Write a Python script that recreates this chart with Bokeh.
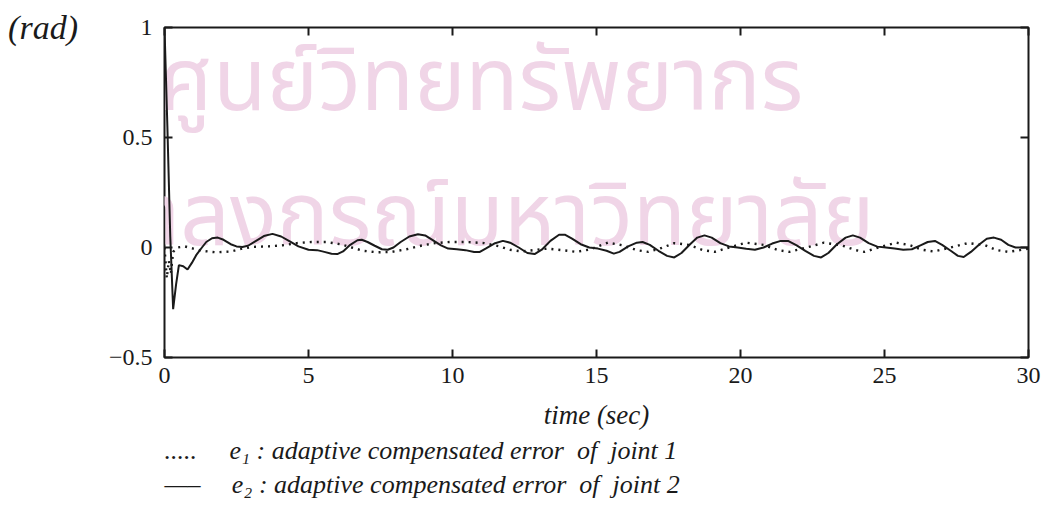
from bokeh.plotting import figure
from bokeh.models import Label, LinearAxis, FixedTicker, Range1d, Title
from bokeh.embed import file_html
from bokeh.resources import INLINE

# ---- data ----
t_e1 = [0.00, 0.08, 0.15, 0.22, 0.30, 0.45, 0.70, 1.00, 1.30, 1.80, 2.30, 2.70, 3.10, 3.60,
        4.10, 4.60, 5.10, 5.60, 6.10, 6.50, 6.90, 7.40, 7.90, 8.40, 8.90, 9.40, 9.90, 10.50,
        11.10, 11.60, 12.00, 12.40, 12.80, 13.30, 13.80, 14.30, 14.80, 15.40, 15.90, 16.40,
        16.80, 17.20, 17.70, 18.20, 18.70, 19.10, 19.60, 20.20, 20.80, 21.30, 21.70, 22.30,
        22.90, 23.50, 24.00, 24.30, 24.80, 25.40, 25.90, 26.30, 26.70, 27.30, 27.90, 28.50,
        28.90, 29.30, 29.70, 30.00]
e1 = [0.0, -0.14, -0.06, -0.12, -0.02, 0.0, 0.005, -0.005, -0.015, -0.022, -0.018, -0.005,
      0.003, 0.005, 0.01, 0.02, 0.025, 0.025, 0.015, 0.0, -0.015, -0.022, -0.02, -0.008,
      0.008, 0.02, 0.025, 0.025, 0.02, 0.006, -0.01, -0.018, -0.012, -0.005, -0.012, -0.02,
      -0.008, 0.022, 0.01, -0.012, -0.02, -0.005, 0.02, 0.012, -0.012, -0.02, 0.0, 0.022,
      0.012, -0.012, -0.02, 0.0, 0.022, 0.01, -0.012, -0.02, 0.0, 0.022, 0.01, -0.01,
      -0.018, 0.0, 0.02, 0.01, -0.012, -0.02, -0.012, -0.005]

t_e2 = [0.00, 0.10, 0.20, 0.30, 0.40, 0.50, 0.65, 0.80, 0.95, 1.10, 1.30, 1.45, 1.65, 1.85,
        2.05, 2.30, 2.50, 2.70, 2.90, 3.15, 3.45, 3.75, 4.05, 4.35, 4.65, 5.00, 5.30, 5.55,
        5.80, 6.00, 6.20, 6.45, 6.70, 6.85, 7.05, 7.30, 7.55, 7.75, 7.95, 8.20, 8.50, 8.80,
        9.05, 9.30, 9.60, 9.85, 10.15, 10.45, 10.75, 10.95, 11.15, 11.45, 11.75, 12.00, 12.30,
        12.60, 12.85, 13.10, 13.40, 13.70, 13.90, 14.15, 14.45, 14.75, 15.05, 15.35, 15.60,
        15.80, 16.10, 16.40, 16.60, 16.85, 17.15, 17.45, 17.70, 17.95, 18.25, 18.50, 18.75,
        19.00, 19.30, 19.60, 19.90, 20.20, 20.50, 20.80, 21.10, 21.40, 21.65, 21.95, 22.25,
        22.55, 22.80, 23.05, 23.35, 23.65, 23.90, 24.15, 24.45, 24.75, 25.05, 25.35, 25.65,
        25.95, 26.25, 26.50, 26.75, 27.00, 27.30, 27.55, 27.75, 28.00, 28.30, 28.55, 28.80,
        29.05, 29.30, 29.55, 29.80, 30.00]
e2 = [1.00, 0.55, 0.05, -0.28, -0.17, -0.08, -0.085, -0.10, -0.07, -0.035, 0.0, 0.025,
      0.042, 0.045, 0.035, 0.015, 0.005, 0.002, 0.008, 0.028, 0.052, 0.062, 0.05, 0.028,
      0.005, -0.01, -0.012, -0.02, -0.028, -0.03, -0.018, 0.012, 0.033, 0.035, 0.025, 0.008,
      -0.008, -0.01, 0.0, 0.025, 0.05, 0.06, 0.055, 0.035, 0.01, -0.005, -0.008, -0.012,
      -0.02, -0.02, -0.005, 0.018, 0.03, 0.022, 0.0, -0.025, -0.03, -0.01, 0.03, 0.058,
      0.058, 0.04, 0.015, 0.0, -0.005, -0.015, -0.028, -0.02, 0.005, 0.022, 0.025, 0.012,
      -0.015, -0.038, -0.045, -0.025, 0.015, 0.045, 0.055, 0.045, 0.02, 0.005, 0.0, -0.006,
      -0.01, 0.0, 0.018, 0.03, 0.03, 0.01, -0.015, -0.038, -0.045, -0.025, 0.015, 0.045,
      0.055, 0.045, 0.02, 0.004, 0.0, -0.005, -0.01, -0.008, 0.01, 0.025, 0.03, 0.012,
      -0.015, -0.038, -0.043, -0.02, 0.015, 0.04, 0.045, 0.035, 0.012, 0.0, 0.0, 0.0]

x_ticks = [0, 5, 10, 15, 20, 25, 30]
y_ticks = [-0.5, 0, 0.5, 1]
y_tick_labels = {-0.5: "\u22120.5", 0: "0", 0.5: "0.5", 1: "1"}
legend_samples = [".....", "\u2014\u2013"]
legend_gaps = ["\u00a0" * 5, "\u00a0" * 4 + "\u2009"]
legend_labels = ["e\u2081 : adaptive compensated error\u00a0\u00a0of\u00a0\u00a0joint 1",
                 "e\u2082 : adaptive compensated error\u00a0\u00a0of\u00a0\u00a0joint 2"]

SERIF = "Liberation Serif"
INK = "#1a1a1a"

p = figure(frame_width=864, frame_height=330, output_backend="svg", toolbar_location=None,
           x_range=Range1d(0, 30), y_range=Range1d(-0.5, 1),
           min_border_left=164, min_border_right=13, min_border_top=27, min_border_bottom=161,
           background_fill_color="white", border_fill_color="white")
p.grid.visible = False
p.outline_line_color = INK
p.outline_line_width = 2

def style_axis(ax, ticks, show_labels):
    ax.ticker = FixedTicker(ticks=ticks)
    ax.major_tick_in = 8
    ax.major_tick_out = 0
    ax.minor_tick_line_color = None
    ax.major_tick_line_color = INK
    ax.major_tick_line_width = 2
    ax.axis_line_color = None
    ax.major_label_text_font = SERIF
    ax.major_label_text_font_size = "24px"
    ax.major_label_text_color = INK
    if not show_labels:
        ax.major_label_text_color = None
        ax.major_label_text_font_size = "6px"
        ax.major_label_standoff = 0

style_axis(p.xaxis[0], x_ticks, True)
p.xaxis[0].major_label_standoff = 10
p.xaxis[0].axis_label = "time (sec)"
p.xaxis[0].axis_label_text_font = SERIF
p.xaxis[0].axis_label_text_font_style = "italic"
p.xaxis[0].axis_label_text_font_size = "27px"
p.xaxis[0].axis_label_text_color = INK
p.xaxis[0].axis_label_standoff = 14

style_axis(p.yaxis[0], y_ticks, True)
p.yaxis[0].major_label_overrides = y_tick_labels
p.yaxis[0].major_label_standoff = 12
p.yaxis[0].axis_label = "(rad)"
p.yaxis[0].axis_label_orientation = "horizontal"
p.yaxis[0].axis_label_align = "end"
p.yaxis[0].axis_label_standoff = 28
p.yaxis[0].axis_label_text_font = SERIF
p.yaxis[0].axis_label_text_font_style = "italic"
p.yaxis[0].axis_label_text_font_size = "34px"
p.yaxis[0].axis_label_text_color = INK

top = LinearAxis()
style_axis(top, x_ticks, False)
p.add_layout(top, "above")
right = LinearAxis()
style_axis(right, y_ticks, False)
p.add_layout(right, "right")

# watermark (scan)
wm = "#f0d5e7"
p.add_layout(Label(x=-6, y=274, x_units="screen", y_units="screen", text="ศูนย์วิทยทรัพยากร",
                   text_font="Noto Sans Thai", text_font_size="87px", text_color=wm,
                   text_baseline="alphabetic", level="underlay"))
p.add_layout(Label(x=-124, y=139, x_units="screen", y_units="screen", text="จุฬาลงกรณ์มหาวิทยาลัย",
                   text_font="Noto Sans Thai", text_font_size="87px", text_color=wm,
                   text_baseline="alphabetic", level="underlay"))

p.line(t_e1, e1, line_color=INK, line_width=2.4, line_dash="2 5")
p.line(t_e2, e2, line_color=INK, line_width=2)

# legend rows below the time axis
for sample, gap, text in zip(legend_samples, legend_gaps, legend_labels):
    p.add_layout(Title(text=sample + gap + text, align="left", offset=0,
                       standoff=3, text_font=SERIF, text_font_style="italic",
                       text_font_size="26px", text_color=INK), "below")

open("out.html", "w").write(file_html(p, INLINE))
